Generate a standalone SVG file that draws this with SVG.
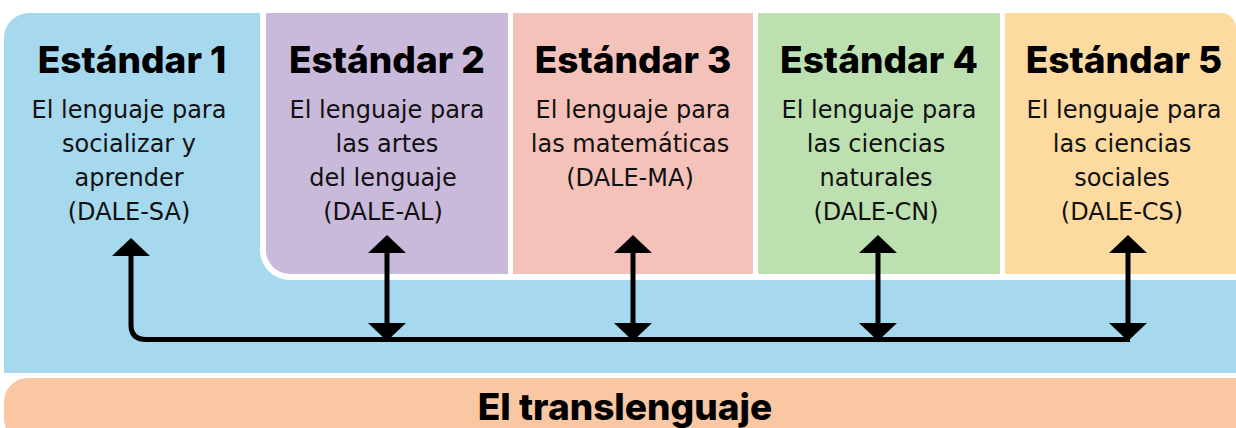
<svg xmlns="http://www.w3.org/2000/svg" width="1236" height="428" viewBox="0 0 1236 428">
  <defs>
    <style>
      .title { font-family: Inter, "DejaVu Sans", sans-serif; font-weight: 800; font-size: 37px; fill: #000; text-anchor: middle; }
      .body { font-family: "DejaVu Sans", "Liberation Sans", sans-serif; font-weight: 400; font-size: 24px; fill: #111; text-anchor: middle; }
      .conn { fill: none; stroke: #000; stroke-width: 5; }
    </style>
    <marker id="ah" markerUnits="userSpaceOnUse" markerWidth="18" markerHeight="38" viewBox="0 0 18 38" refX="0" refY="19" orient="auto-start-reverse">
      <path d="M0,0 L18,19 L0,38 Z" fill="#000"/>
    </marker>
  </defs>
  <rect width="1236" height="428" fill="#fff"/>

  <g id="base">
    <path d="M4,38 A25,25 0 0 1 29,13 H1240 V373 H4 Z" fill="#a6d8ee"/>
  </g>

  <g id="bottom-bar">
    <rect x="4" y="378" width="1260" height="64" rx="24" fill="#f9c7a1"/>
    <text x="625" y="420" class="title">El translenguaje</text>
  </g>

  <path id="frame" d="M260,0 V250 A30,30 0 0 0 290,280 H1240 V0 Z" fill="#fff"/>

  <g id="std1">
    <text x="132" y="73" class="title">Estándar 1</text>
    <text x="129" y="118" class="body">El lenguaje para</text>
    <text x="129" y="152" class="body">socializar y</text>
    <text x="129" y="186" class="body">aprender</text>
    <text x="129" y="220" class="body">(DALE-SA)</text>
  </g>

  <g id="std2">
    <path d="M266,13 H508 V274 H290 A24,24 0 0 1 266,250 Z" fill="#c9b9da"/>
    <text x="387" y="73" class="title">Estándar 2</text>
    <text x="387" y="118" class="body">El lenguaje para</text>
    <text x="387" y="152" class="body">las artes</text>
    <text x="383" y="186" class="body">del lenguaje</text>
    <text x="383" y="220" class="body">(DALE-AL)</text>
  </g>

  <g id="std3">
    <rect x="513" y="13" width="240" height="261" fill="#f5c2b9"/>
    <text x="633" y="73" class="title">Estándar 3</text>
    <text x="633" y="118" class="body">El lenguaje para</text>
    <text x="630" y="152" class="body">las matemáticas</text>
    <text x="630" y="186" class="body">(DALE-MA)</text>
  </g>

  <g id="std4">
    <rect x="758" y="13" width="242" height="261" fill="#bde0b0"/>
    <text x="879" y="73" class="title">Estándar 4</text>
    <text x="879" y="118" class="body">El lenguaje para</text>
    <text x="876" y="152" class="body">las ciencias</text>
    <text x="876" y="186" class="body">naturales</text>
    <text x="876" y="220" class="body">(DALE-CN)</text>
  </g>

  <g id="std5">
    <path d="M1005,13 H1221 A15,15 0 0 1 1236,28 V274 H1005 Z" fill="#fddaa0"/>
    <text x="1124" y="73" class="title">Estándar 5</text>
    <text x="1124" y="118" class="body">El lenguaje para</text>
    <text x="1122" y="152" class="body">las ciencias</text>
    <text x="1122" y="186" class="body">sociales</text>
    <text x="1122" y="220" class="body">(DALE-CS)</text>
  </g>

  <g id="connectors">
    <path class="conn" d="M131,256 V325 Q131,339.5 146,339.5 H1130" marker-start="url(#ah)"/>
    <path class="conn" d="M387,253 V323" marker-start="url(#ah)" marker-end="url(#ah)"/>
    <path class="conn" d="M633,253 V323" marker-start="url(#ah)" marker-end="url(#ah)"/>
    <path class="conn" d="M878,253 V323" marker-start="url(#ah)" marker-end="url(#ah)"/>
    <path class="conn" d="M1128,253 V323" marker-start="url(#ah)" marker-end="url(#ah)"/>
  </g>
</svg>
